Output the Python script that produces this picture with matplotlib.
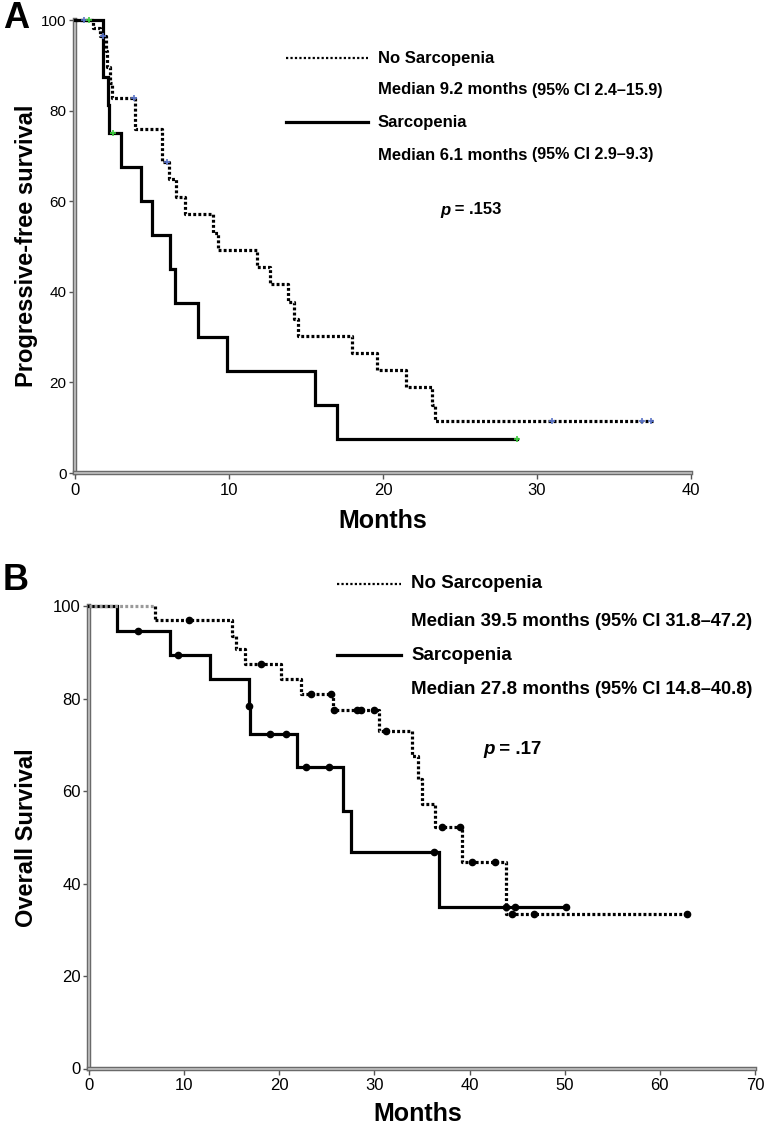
import numpy as np
import matplotlib
matplotlib.use('Agg')
import matplotlib.pyplot as plt
from matplotlib.lines import Line2D
import matplotlib.patheffects as pe

plt.rcParams['font.family'] = ['Liberation Sans', 'DejaVu Sans']

# ---------------- data ----------------
# Panel A: progression-free survival (months, %)
pfs_no_t = [0, 1.2, 1.6, 2.0, 2.1, 2.25, 2.4, 3.9, 5.63, 6.1, 6.55, 7.15, 8.96, 9.3,
            11.82, 12.66, 13.82, 14.2, 14.5, 17.97, 19.6, 21.5, 23.2, 23.4]
pfs_no_s = [100, 98.3, 96.5, 93.1, 89.7, 86.2, 82.8, 75.9, 68.6, 64.8, 61.0, 57.2, 53.0, 49.3,
            45.5, 41.7, 37.8, 34.0, 30.2, 26.4, 22.7, 18.9, 15.0, 11.4]
pfs_no_end = 37.5
pfs_no_cens = [0.6, 1.85, 3.83, 5.95, 31.0, 36.8, 37.4]

pfs_sa_t = [0, 1.84, 2.12, 2.23, 3.0, 4.28, 4.98, 6.15, 6.49, 8.0, 9.89, 15.6, 17.0]
pfs_sa_s = [100, 87.5, 81.25, 75, 67.5, 60, 52.5, 45, 37.5, 30, 22.5, 15, 7.5]
pfs_sa_end = 28.7
pfs_sa_cens = [0.9, 2.45, 28.7]

# Panel B: overall survival (months, %)
os_no_t = [0, 6.9, 15.0, 15.5, 16.4, 20.2, 22.3, 25.6, 30.5, 34.0, 34.6, 35.0, 36.4, 39.2, 43.8]
os_no_s = [100, 97.0, 93.7, 90.8, 87.6, 84.2, 81.1, 77.5, 73.0, 67.7, 62.7, 57.3, 52.2, 44.7, 33.5]
os_no_end = 62.9
os_no_cens = [10.5, 18.1, 23.3, 25.4, 25.8, 28.2, 28.6, 30.0, 31.2, 37.1, 39.0, 40.3, 42.7,
              44.5, 46.8, 62.9]

os_sa_t = [0, 2.9, 8.5, 12.7, 16.8, 16.9, 21.9, 26.7, 27.5, 36.8]
os_sa_s = [100, 94.7, 89.5, 84.2, 78.4, 72.4, 65.2, 55.8, 46.8, 34.9]
os_sa_end = 50.1
os_sa_cens = [5.1, 9.4, 16.85, 19.0, 20.7, 22.8, 25.2, 36.3, 43.8, 44.8, 50.1]

yticks = [0, 20, 40, 60, 80, 100]
xticks_A = [0, 10, 20, 30, 40]
xticks_B = [0, 10, 20, 30, 40, 50, 60, 70]

legend_A = ["No Sarcopenia", "Median 9.2 months ", "(95% CI 2.4\u201315.9)",
            "Sarcopenia", "Median 6.1 months ", "(95% CI 2.9\u20139.3)", ".153"]
legend_B = ["No Sarcopenia", "Median 39.5 months ", "(95% CI 31.8\u201347.2)",
            "Sarcopenia", "Median 27.8 months ", "(95% CI 14.8\u201340.8)", ".17"]

# ---------------- figure ----------------
W, H = 765, 1132
fig = plt.figure(figsize=(W / 100, H / 100), dpi=100)


def fx(px):
    return px / W


def fy(py):
    return 1 - py / H


DOT = dict(color='black', lw=2.3, linestyle=(0, (0.9, 0.7)), dash_capstyle='butt')
SOL = dict(color='black', lw=2.3, linestyle='-', solid_joinstyle='miter')
LEG_DOT = dict(color='black', lw=1.6, linestyle=(0, (1.0, 1.0)), dash_capstyle='butt')


def curve(ax, t, s, end, style, start_color=None):
    tt = list(t) + [end]
    ss = list(s) + [s[-1]]
    if start_color is None:
        ax.step(tt, ss, where='post', clip_on=False, zorder=3, **style)
    else:
        st = dict(style)
        st['color'] = start_color
        ax.plot(tt[:2], [ss[0], ss[0]], clip_on=False, zorder=3, **st)
        ax.step(tt[1:], ss[1:], where='post', clip_on=False, zorder=3, **style)
        ax.plot([tt[1], tt[1]], [ss[0], ss[1]], clip_on=False, zorder=3, **style)


def censor_y(t, s, c):
    idx = np.searchsorted(np.array(t), np.array(c), side='right') - 1
    return np.array(s)[idx]


def style_axes(ax, xt, xlim, xfs, yfs):
    ax.set_xlim(*xlim)
    ax.set_ylim(0, 100)
    for side in ['top', 'right']:
        ax.spines[side].set_visible(False)
    for side in ['left', 'bottom']:
        sp = ax.spines[side]
        sp.set_linewidth(1.3)
        sp.set_color('#bdbdbd')
        sp.set_path_effects([pe.Stroke(linewidth=3.2, foreground='#6a6a6a'), pe.Normal()])
        sp.set_zorder(2)
    ax.set_xticks(xt)
    ax.set_yticks(yticks)
    ax.tick_params(axis='both', direction='out', length=4, width=1.0, color='#555555', pad=2)
    ax.tick_params(axis='x', labelsize=xfs, pad=3)
    ax.tick_params(axis='y', labelsize=yfs)
    ax.patch.set_visible(False)


def legend(ax, labels, x0, x1, xt, ys, yp, xp, fs):
    fig.add_artist(Line2D([fx(x0), fx(x1)], [fy(ys[0]), fy(ys[0])], transform=fig.transFigure, **LEG_DOT))
    fig.add_artist(Line2D([fx(x0), fx(x1)], [fy(ys[2]), fy(ys[2])], transform=fig.transFigure, **SOL))
    fig.text(fx(xt), fy(ys[0]), labels[0], ha='left', va='center', fontsize=fs, fontweight='bold')
    t1 = fig.text(fx(xt), fy(ys[1]), labels[1], ha='left', va='center', fontsize=fs, fontweight='bold')
    ax.annotate(labels[2], xy=(1, 0.5), xycoords=t1, ha='left', va='center',
                fontsize=fs * 0.97, fontweight='bold', annotation_clip=False)
    fig.text(fx(xt), fy(ys[2]), labels[3], ha='left', va='center', fontsize=fs, fontweight='bold')
    t2 = fig.text(fx(xt), fy(ys[3]), labels[4], ha='left', va='center', fontsize=fs, fontweight='bold')
    ax.annotate(labels[5], xy=(1, 0.5), xycoords=t2, ha='left', va='center',
                fontsize=fs * 0.97, fontweight='bold', annotation_clip=False)
    tp = fig.text(fx(xp), fy(yp), "p", ha='left', va='center', fontsize=fs,
                  fontweight='bold', fontstyle='italic')
    ax.annotate(" = " + labels[6], xy=(1, 0.5), xycoords=tp, ha='left', va='center',
                fontsize=fs, fontweight='bold', annotation_clip=False)


# ---------- Panel A ----------
axA = fig.add_axes([fx(75), fy(473), fx(616), 453 / H])
style_axes(axA, xticks_A, (0, 40), 12, 11)
curve(axA, pfs_sa_t, pfs_sa_s, pfs_sa_end, SOL)
curve(axA, pfs_no_t, pfs_no_s, pfs_no_end, DOT)
axA.plot(pfs_no_cens, censor_y(pfs_no_t, pfs_no_s, pfs_no_cens), ls='none', marker='+',
         ms=5, mew=1.2, color='#5b74c8', zorder=4, clip_on=False)
axA.plot(pfs_sa_cens, censor_y(pfs_sa_t, pfs_sa_s, pfs_sa_cens), ls='none', marker='+',
         ms=5, mew=1.2, color='#3fcf3f', zorder=4, clip_on=False)

fig.text(fx(27), fy(246), "Progressive-free survival", rotation=90, ha='center', va='center',
         fontsize=17, fontweight='bold')
fig.text(fx(383), fy(521), "Months", ha='center', va='center', fontsize=18, fontweight='bold')
fig.text(fx(3), fy(19), "A", ha='left', va='center', fontsize=26, fontweight='bold')

legend(axA, legend_A, 286, 368, 378, [58, 90, 122, 155], 210, 440, 12)

# ---------- Panel B ----------
axB = fig.add_axes([fx(89), fy(1068.5), fx(755 - 89), 462 / H])
style_axes(axB, xticks_B, (0, 70), 12, 12)
curve(axB, os_sa_t, os_sa_s, os_sa_end, SOL)
curve(axB, os_no_t, os_no_s, os_no_end, DOT, start_color='#9a9a9a')
axB.plot(os_no_cens, censor_y(os_no_t, os_no_s, os_no_cens), ls='none', marker='o',
         ms=4.5, color='black', zorder=4, clip_on=False)
axB.plot(os_sa_cens, censor_y(os_sa_t, os_sa_s, os_sa_cens), ls='none', marker='o',
         ms=4.5, color='black', zorder=4, clip_on=False)

fig.text(fx(27), fy(838), "Overall Survival", rotation=90, ha='center', va='center',
         fontsize=17, fontweight='bold')
fig.text(fx(418), fy(1114), "Months", ha='center', va='center', fontsize=18, fontweight='bold')
fig.text(fx(3), fy(581), "B", ha='left', va='center', fontsize=26, fontweight='bold')

legend(axB, legend_B, 337, 401, 411, [584, 621, 655, 690], 750, 483, 13.5)

fig.savefig("out.png", dpi=100)
